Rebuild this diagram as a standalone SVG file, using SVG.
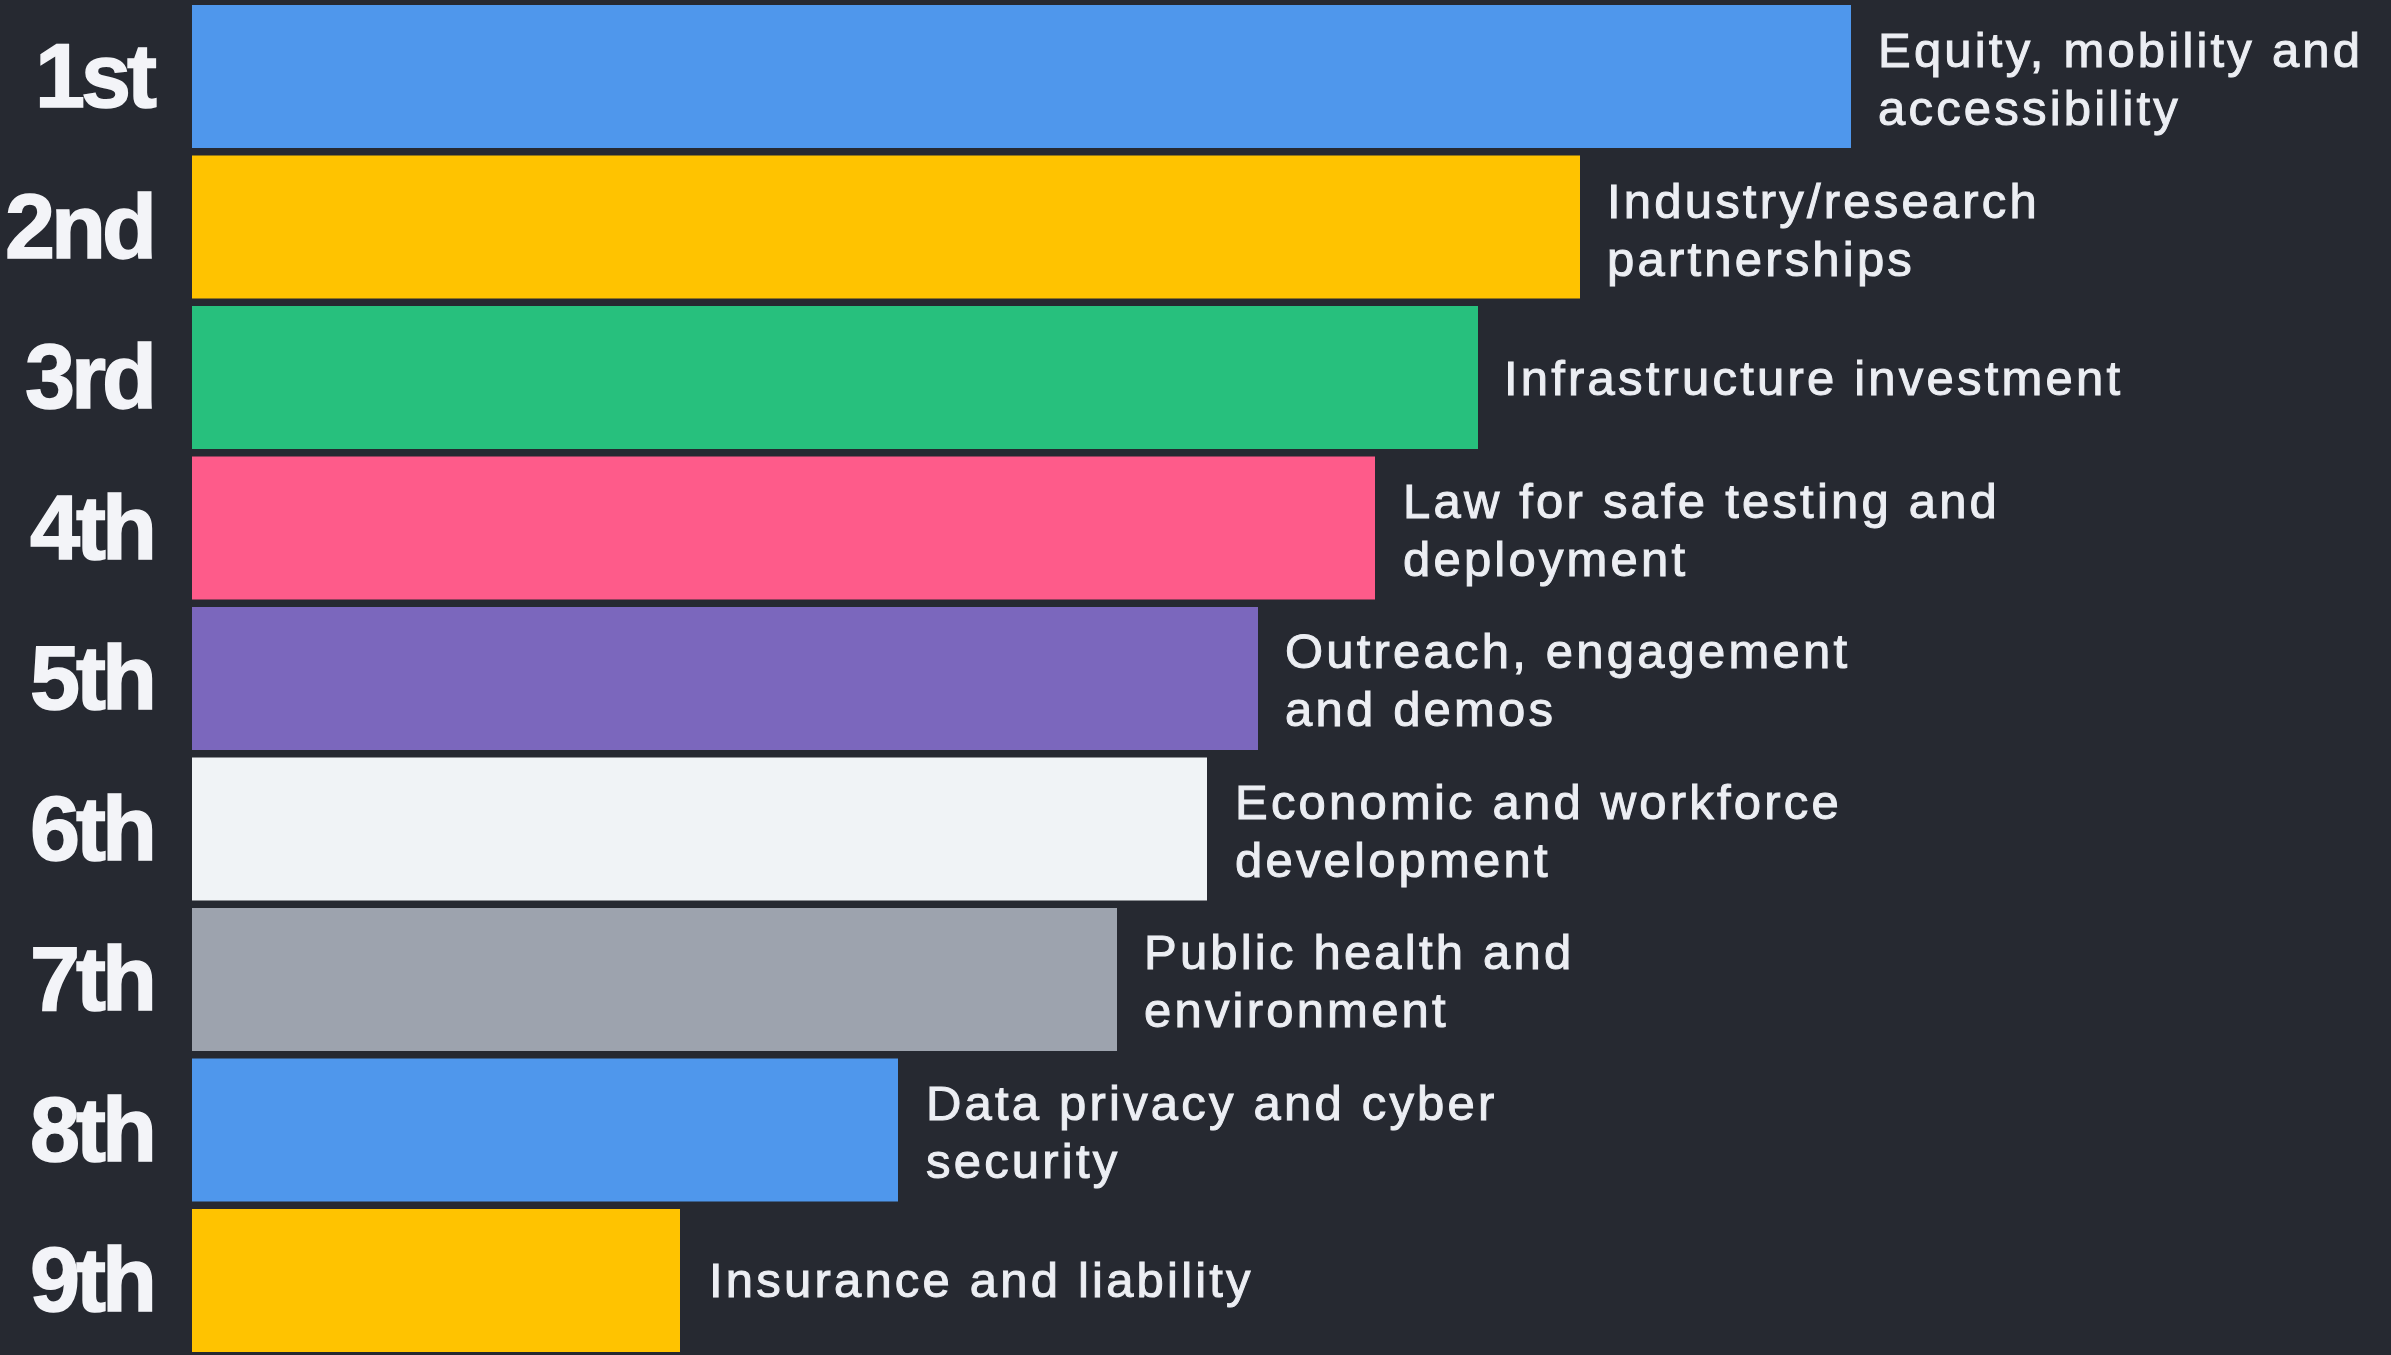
<svg xmlns="http://www.w3.org/2000/svg" width="2391" height="1355" viewBox="0 0 2391 1355">
<style>
.rank{font-family:"Liberation Sans",Arial,sans-serif;font-weight:700;font-size:90px;fill:#f3f4f8;text-anchor:end;letter-spacing:-4px;stroke:#f3f4f8;stroke-width:1.5px}
.lbl{font-family:"Liberation Sans",Arial,sans-serif;font-size:49px;fill:#eceef3;letter-spacing:3.2px;stroke:#eceef3;stroke-width:1px}
</style>
<rect x="0" y="0" width="2391" height="1355" fill="#262931"/>
<g id="row1"><rect x="192" y="5" width="1659" height="143" fill="#4f97ec"/><text class="rank" x="153" y="107">1st</text><text class="lbl" x="1878" y="67">Equity, mobility and</text><text class="lbl" x="1878" y="125">accessibility</text></g>
<g id="row2"><rect x="192" y="155.5" width="1388" height="143" fill="#ffc300"/><text class="rank" x="153" y="257.5">2nd</text><text class="lbl" x="1607" y="217.5">Industry/research</text><text class="lbl" x="1607" y="275.5">partnerships</text></g>
<g id="row3"><rect x="192" y="306" width="1286" height="143" fill="#27c07d"/><text class="rank" x="153" y="408">3rd</text><text class="lbl" x="1504" y="395">Infrastructure investment</text></g>
<g id="row4"><rect x="192" y="456.5" width="1183" height="143" fill="#fe5b8a"/><text class="rank" x="153" y="558.5">4th</text><text class="lbl" x="1403" y="517.5">Law for safe testing and</text><text class="lbl" x="1403" y="575.5">deployment</text></g>
<g id="row5"><rect x="192" y="607" width="1066" height="143" fill="#7b67bd"/><text class="rank" x="153" y="709">5th</text><text class="lbl" x="1285" y="668">Outreach, engagement</text><text class="lbl" x="1285" y="726">and demos</text></g>
<g id="row6"><rect x="192" y="757.5" width="1015" height="143" fill="#f0f3f6"/><text class="rank" x="153" y="859.5">6th</text><text class="lbl" x="1235" y="818.5">Economic and workforce</text><text class="lbl" x="1235" y="876.5">development</text></g>
<g id="row7"><rect x="192" y="908" width="925" height="143" fill="#9da3ae"/><text class="rank" x="153" y="1010">7th</text><text class="lbl" x="1144" y="969">Public health and</text><text class="lbl" x="1144" y="1027">environment</text></g>
<g id="row8"><rect x="192" y="1058.5" width="706" height="143" fill="#4f97ec"/><text class="rank" x="153" y="1160.5">8th</text><text class="lbl" x="926" y="1119.5">Data privacy and cyber</text><text class="lbl" x="926" y="1177.5">security</text></g>
<g id="row9"><rect x="192" y="1209" width="488" height="143" fill="#ffc300"/><text class="rank" x="153" y="1311">9th</text><text class="lbl" x="709" y="1297">Insurance and liability</text></g>
<g id="connectors"/>
</svg>
